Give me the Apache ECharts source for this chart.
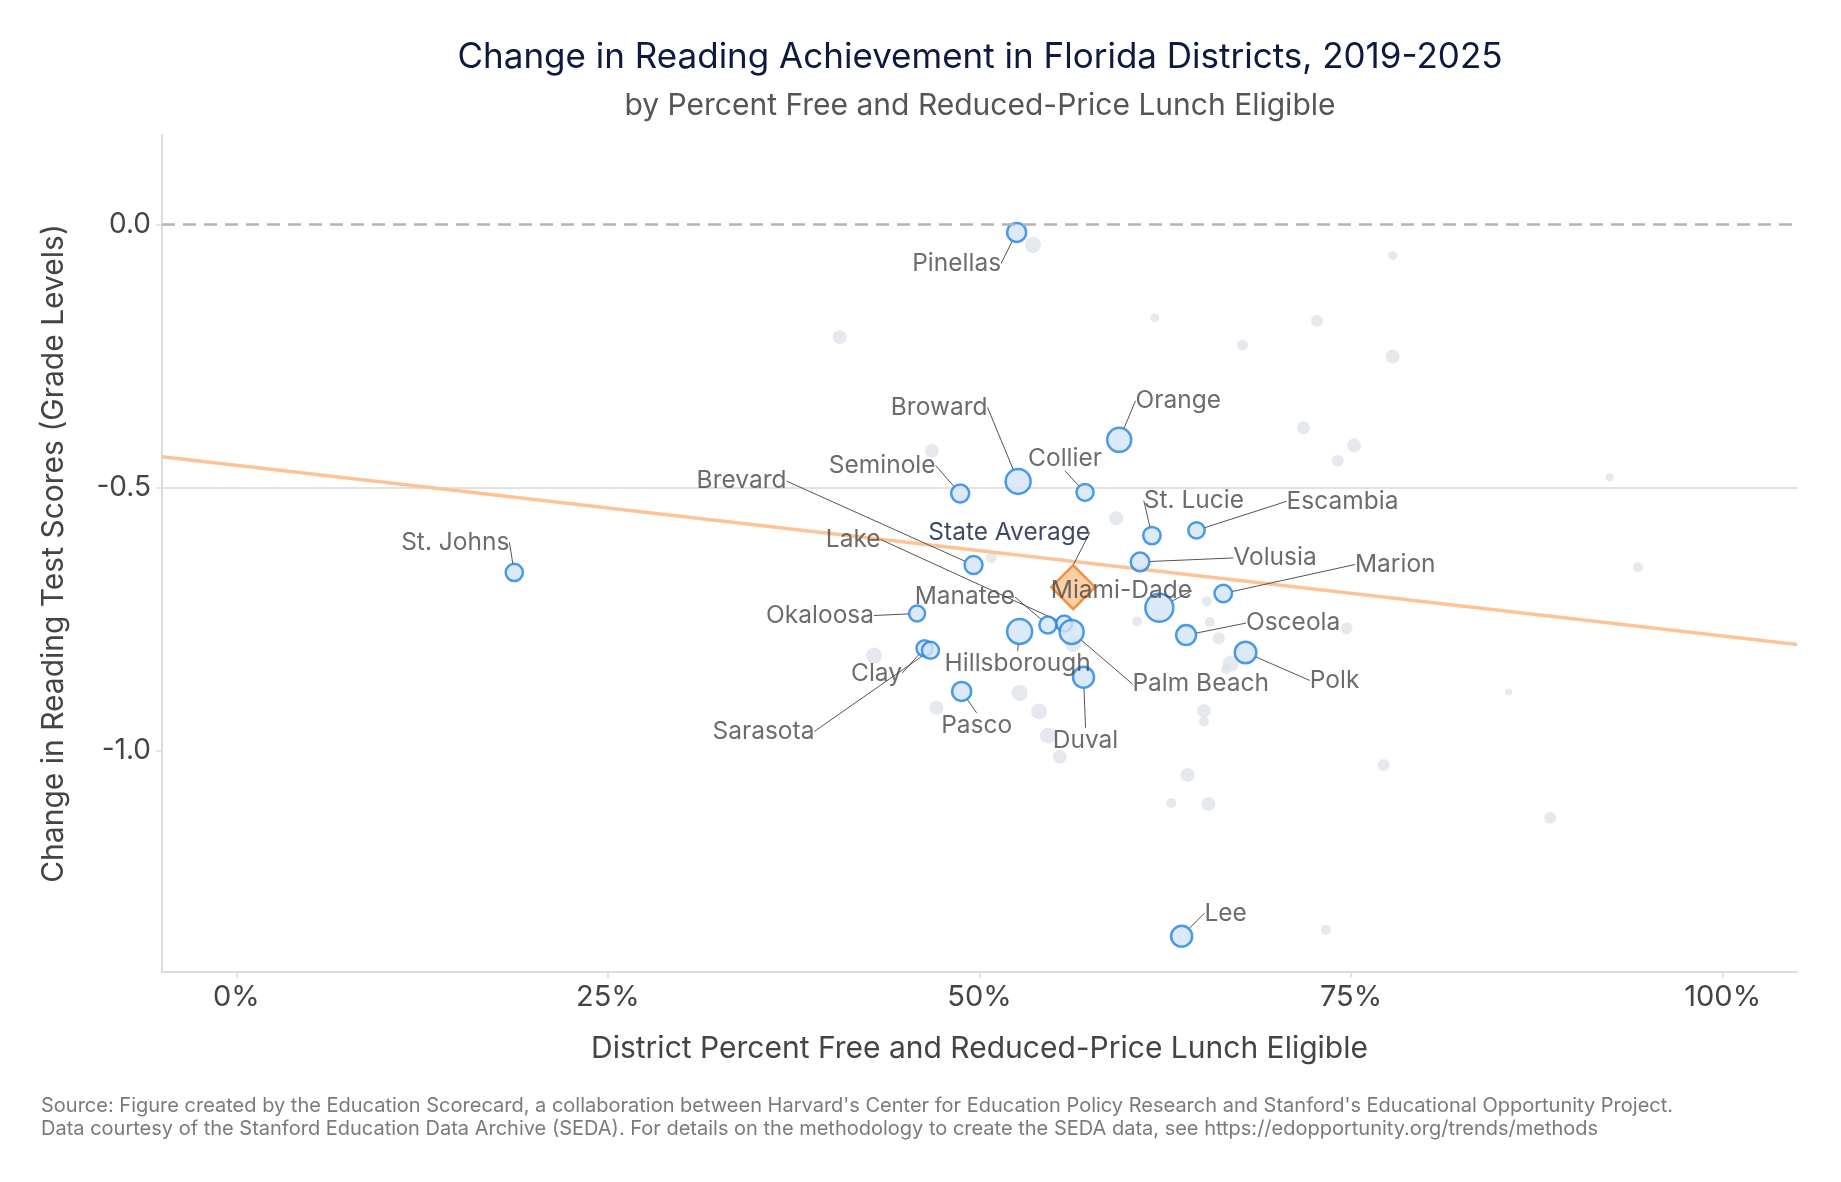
<!DOCTYPE html>
<html>
<head>
<meta charset="utf-8">
<title>Change in Reading Achievement in Florida Districts</title>
<script src="https://cdn.jsdelivr.net/npm/echarts@6/dist/echarts.min.js"></script>
<style>
  html, body { margin: 0; padding: 0; background: #fff; }
  #chart { width: 1841px; height: 1182px; }
</style>
</head>
<body>
<div id="chart"></div>
<script>
// labelled districts: share FRL eligible, change in grade levels, bubble radius
const districtNames = ['Pinellas', 'St. Johns', 'Orange', 'Broward', 'Seminole', 'Collier', 'St. Lucie', 'Escambia',
  'Volusia', 'Brevard', 'Lake', 'Marion', 'Miami-Dade', 'Okaloosa', 'Manatee', 'Palm Beach', 'Hillsborough',
  'Osceola', 'Polk', 'Clay', 'Sarasota', 'Pasco', 'Duval', 'Lee'];
const districtFrl = [0.525, 0.187, 0.594, 0.526, 0.487, 0.571, 0.616, 0.646, 0.608, 0.496, 0.557, 0.664, 0.621,
  0.458, 0.546, 0.562, 0.527, 0.639, 0.679, 0.463, 0.467, 0.488, 0.570, 0.636];
const districtChange = [-0.015, -0.661, -0.409, -0.488, -0.511, -0.509, -0.591, -0.581, -0.641, -0.647, -0.758,
  -0.701, -0.728, -0.739, -0.761, -0.774, -0.773, -0.780, -0.813, -0.805, -0.809, -0.887, -0.860, -1.352];
const districtBubble = [10.5, 9.6, 13, 13.5, 10, 9.5, 9.7, 9.2, 10.3, 10, 9, 9.8, 15, 9, 9.5, 13, 13.5, 11, 11.8,
  9, 9.5, 10.5, 11.5, 11.5];

// unlabelled districts
const otherFrl = [0.536, 0.778, 0.618, 0.727, 0.406, 0.677, 0.778, 0.718, 0.752, 0.741, 0.468, 0.924, 0.592, 0.508,
  0.943, 0.653, 0.606, 0.655, 0.747, 0.661, 0.563, 0.429, 0.669, 0.666, 0.856, 0.527, 0.471, 0.540, 0.651, 0.651,
  0.546, 0.554, 0.772, 0.640, 0.629, 0.654, 0.884, 0.733];
const otherChange = [-0.039, -0.059, -0.177, -0.183, -0.214, -0.229, -0.251, -0.386, -0.420, -0.449, -0.430, -0.480,
  -0.558, -0.633, -0.651, -0.716, -0.754, -0.755, -0.767, -0.786, -0.797, -0.819, -0.834, -0.845, -0.888, -0.890,
  -0.918, -0.925, -0.924, -0.944, -0.971, -1.011, -1.027, -1.046, -1.099, -1.101, -1.127, -1.340];
const otherBubble = [8, 4.5, 4.5, 6, 7, 5.5, 7, 6.5, 7, 6, 7, 4, 7, 5.5, 5, 5, 5, 5, 6, 6, 8, 8, 8, 5, 3.5, 8, 7, 8,
  7, 5, 8, 7, 6, 7, 5, 7, 6, 5];

// state average
const stateName = ['State Average'];
const stateFrl = [0.563];
const stateChange = [-0.689];

// fitted line (end points at the axis limits)
const trendFrl = [-0.05, 1.05];
const trendChange = [-0.441, -0.798];

// ticks
const xTickValues = [0, 0.25, 0.5, 0.75, 1];
const yTickValues = [-1.0, -0.5, 0];

// label offsets from the point centre (px)
const labelOffset = {
  'Pinellas': [-60, 31], 'St. Johns': [-59, -30], 'Orange': [59, -39], 'Broward': [-79, -74],
  'Seminole': [-78, -28], 'Collier': [-20, -34], 'St. Lucie': [42, -35], 'Escambia': [146, -29],
  'Volusia': [135, -4], 'Brevard': [-232, -84], 'Lake': [-211, -84], 'Marion': [172, -29],
  'Miami-Dade': [-38, -17], 'Okaloosa': [-97, 2], 'Manatee': [-83, -28], 'Palm Beach': [129, 52],
  'Hillsborough': [-2, 32], 'Osceola': [107, -12], 'Polk': [89, 28], 'Clay': [-48, 25],
  'Sarasota': [-167, 81], 'Pasco': [15, 34], 'Duval': [2, 63], 'Lee': [44, -23],
  'State Average': [-64, -55]
};

const FONT = 'Inter';
const chart = echarts.init(document.getElementById('chart'));

const highlighted = districtNames.map((n, i) => ({ name: n, value: [districtFrl[i], districtChange[i], districtBubble[i]] }));
const others = otherFrl.map((x, i) => [x, otherChange[i], otherBubble[i]]);
const stateData = stateName.map((n, i) => ({ name: n, value: [stateFrl[i], stateChange[i]] }));
const trend = trendFrl.map((x, i) => [x, trendChange[i]]);

const option = {
  animation: false,
  backgroundColor: '#fff',
  textStyle: { fontFamily: FONT },
  graphic: [
    {
      type: 'text', x: 980, y: 57,
      style: { text: 'Change in Reading Achievement in Florida Districts, 2019-2025', fill: '#0c1a3f',
        font: '35px Inter', textAlign: 'center', textVerticalAlign: 'middle' }
    },
    {
      type: 'text', x: 980, y: 106,
      style: { text: 'by Percent Free and Reduced-Price Lunch Eligible', fill: '#555',
        font: '30px Inter', textAlign: 'center', textVerticalAlign: 'middle' }
    },
    {
      type: 'text', x: 41, y: 1106,
      style: { text: "Source: Figure created by the Education Scorecard, a collaboration between Harvard's Center for Education Policy Research and Stanford's Educational Opportunity Project.",
        fill: '#7a7a7a', font: '20px Inter', textAlign: 'left', textVerticalAlign: 'middle' }
    },
    {
      type: 'text', x: 41, y: 1129,
      style: { text: 'Data courtesy of the Stanford Education Data Archive (SEDA). For details on the methodology to create the SEDA data, see https://edopportunity.org/trends/methods',
        fill: '#7a7a7a', font: '20px Inter', textAlign: 'left', textVerticalAlign: 'middle' }
    }
  ],
  grid: { left: 162, right: 44, top: 135, bottom: 210, containLabel: false, outerBoundsMode: 'none' },
  xAxis: {
    type: 'value',
    min: -0.05,
    max: 1.05,
    name: 'District Percent Free and Reduced-Price Lunch Eligible',
    nameLocation: 'middle',
    nameGap: 62,
    nameTextStyle: { fontSize: 30, color: '#444', fontFamily: FONT },
    axisLine: { show: true, onZero: false, lineStyle: { color: '#dcdcdc', width: 2 } },
    axisTick: { show: true, length: 6, customValues: xTickValues, lineStyle: { color: '#dcdcdc', width: 1.5 } },
    axisLabel: {
      customValues: xTickValues,
      margin: 11,
      fontSize: 29,
      color: '#444',
      fontFamily: FONT,
      formatter: v => Math.round(v * 100) + '%'
    },
    splitLine: { show: false }
  },
  yAxis: {
    type: 'value',
    min: -1.42,
    max: 0.17,
    splitNumber: 3,
    name: 'Change in Reading Test Scores (Grade Levels)',
    nameLocation: 'middle',
    nameGap: 93,
    nameRotate: 90,
    nameTextStyle: { fontSize: 30, color: '#444', fontFamily: FONT },
    axisLine: { show: true, onZero: false, lineStyle: { color: '#dcdcdc', width: 2 } },
    axisTick: { show: true, length: 6, customValues: yTickValues, lineStyle: { color: '#dcdcdc', width: 1.5 } },
    axisLabel: {
      customValues: yTickValues,
      margin: 11,
      fontSize: 28,
      color: '#444',
      fontFamily: FONT,
      formatter: v => v.toFixed(1)
    },
    splitLine: { show: true, showMinLine: false, showMaxLine: false, lineStyle: { color: '#e2e2e2', width: 2 } }
  },
  series: [
    {
      // other districts
      type: 'scatter',
      data: others,
      symbolSize: d => d[2] * 2,
      itemStyle: { color: '#dfe3e8' },
      silent: true,
      z: 1
    },
    {
      // fitted line + zero reference
      type: 'line',
      data: trend,
      showSymbol: false,
      symbol: 'none',
      lineStyle: { color: '#fcc496', width: 3.5 },
      silent: true,
      z: 2,
      markLine: {
        silent: true,
        symbol: 'none',
        label: { show: false },
        lineStyle: { color: '#b4b4b4', type: [13, 8], width: 2.5 },
        data: [{ yAxis: 0 }]
      }
    },
    {
      // state average
      type: 'scatter',
      data: stateData,
      symbol: 'diamond',
      symbolSize: 44,
      itemStyle: { color: '#fdc391', borderColor: '#f07b1d', borderWidth: 2.5 },
      label: {
        show: true, position: 'inside', formatter: p => p.name,
        color: '#0c1a3f', fontSize: 24.5, fontFamily: FONT
      },
      labelLayout: p => {
        const o = labelOffset[stateName[p.dataIndex]];
        return { dx: o[0], dy: o[1] };
      },
      labelLine: { show: true, lineStyle: { color: '#555', width: 1 } },
      silent: true,
      z: 3
    },
    {
      // labelled districts
      type: 'scatter',
      data: highlighted,
      symbolSize: d => d[2] * 2 - 2,
      itemStyle: { color: '#d3e4f6', borderColor: '#2183e2', borderWidth: 2.5 },
      label: {
        show: true, position: 'inside', formatter: p => p.name,
        color: '#474747', fontSize: 24.5, fontFamily: FONT
      },
      labelLayout: p => {
        const o = labelOffset[districtNames[p.dataIndex]];
        return { dx: o[0], dy: o[1] };
      },
      labelLine: { show: true, lineStyle: { color: '#555', width: 1 } },
      silent: true,
      z: 4
    }
  ]
};

chart.setOption(option);
</script>
</body>
</html>
